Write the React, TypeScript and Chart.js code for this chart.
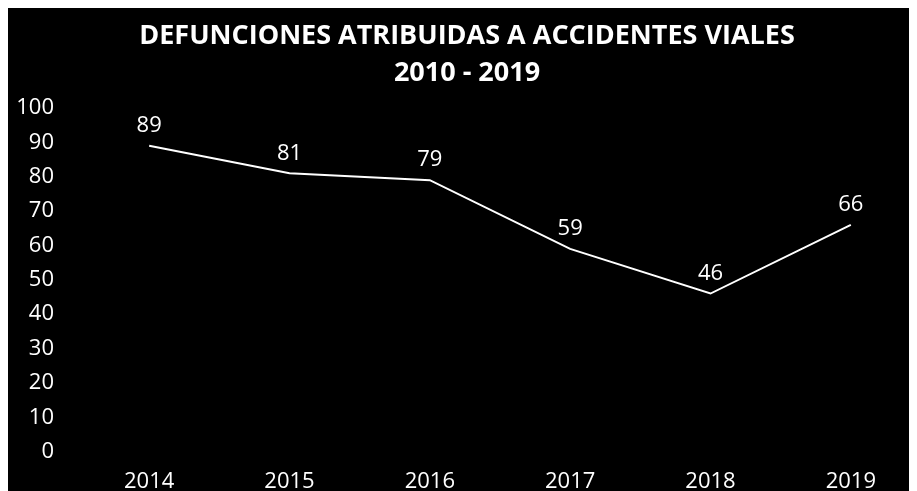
import React, { useEffect, useRef } from "react";
import { Chart, registerables } from "chart.js";

Chart.register(...registerables);

const TITLE_LINES = ["DEFUNCIONES ATRIBUIDAS A ACCIDENTES VIALES", "2010 - 2019"];
const YEARS = ["2014", "2015", "2016", "2017", "2018", "2019"];
const DEATHS = [89, 81, 79, 59, 46, 66];
const Y_MIN = 0;
const Y_MAX = 100;
const Y_STEP = 10;

const FONT = "'Open Sans', 'Noto Sans', sans-serif";

const valueLabels = {
  id: "valueLabels",
  afterDatasetsDraw(chart: any) {
    const ctx = chart.ctx;
    const meta = chart.getDatasetMeta(0);
    ctx.save();
    ctx.fillStyle = "#ffffff";
    ctx.font = `22px ${FONT}`;
    ctx.textAlign = "center";
    ctx.textBaseline = "middle";
    meta.data.forEach((pt: any, i: number) => {
      ctx.fillText(String(DEATHS[i]), pt.x, pt.y - 20);
    });
    ctx.restore();
  },
};

export default function App() {
  const ref = useRef<HTMLCanvasElement | null>(null);

  useEffect(() => {
    if (!ref.current) return;
    const chart = new Chart(ref.current, {
      type: "line",
      data: {
        labels: YEARS,
        datasets: [
          {
            data: DEATHS,
            borderColor: "#ffffff",
            borderWidth: 2,
            pointRadius: 0,
            tension: 0,
            fill: false,
          },
        ],
      },
      options: {
        responsive: false,
        animation: false,
        layout: { padding: { left: 5, right: 7, top: 0, bottom: 5 } },
        plugins: {
          legend: { display: false },
          tooltip: { enabled: false },
          title: {
            display: true,
            text: TITLE_LINES,
            color: "#ffffff",
            font: { family: FONT, size: 27, weight: "bold", lineHeight: 1.37 },
            padding: { top: 10, bottom: 16 },
          },
        },
        scales: {
          x: {
            offset: true,
            grid: { display: false, drawTicks: false },
            border: { display: false },
            ticks: {
              color: "#ffffff",
              font: { family: FONT, size: 22 },
              padding: 17,
              autoSkip: false,
              maxRotation: 0,
            },
          },
          y: {
            min: Y_MIN,
            max: Y_MAX,
            grid: { display: false, drawTicks: false },
            border: { display: false },
            afterFit(scale: any) {
              scale.width = 66;
            },
            ticks: {
              stepSize: Y_STEP,
              color: "#ffffff",
              font: { family: FONT, size: 22 },
              padding: 25,
            },
          },
        },
      },
      plugins: [valueLabels],
    });
    return () => chart.destroy();
  }, []);

  return (
    <div
      style={{
        width: "calc(100vw - 8px)",
        height: "calc(100vh - 8px)",
        overflow: "hidden",
        background: "#000000",
      }}
    >
      <canvas ref={ref} width={920} height={509} style={{ width: 920, height: 509, display: "block" }} />
    </div>
  );
}
